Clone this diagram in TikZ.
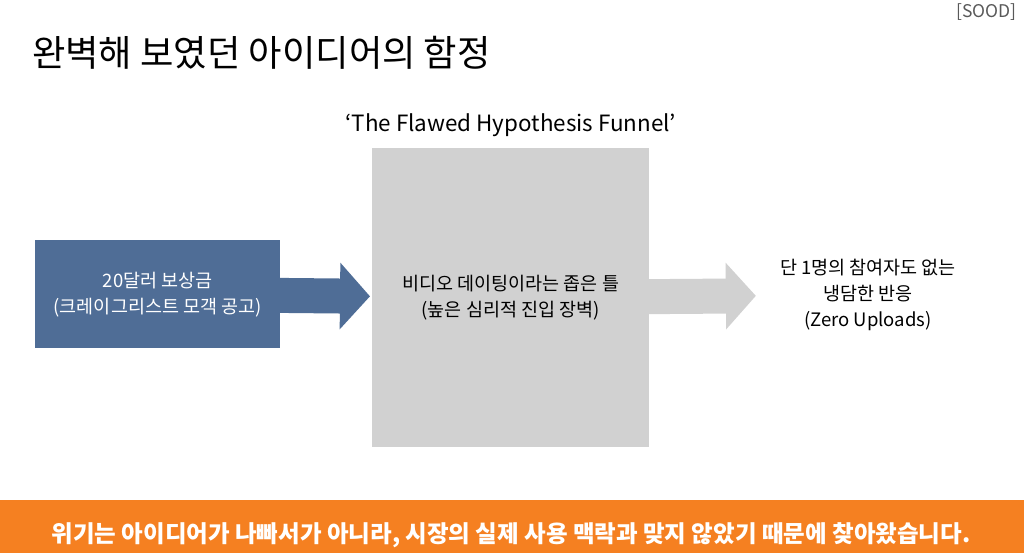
\documentclass[tikz,border=0pt]{standalone}
\usepackage{fontspec}
\setmainfont{Noto Sans CJK KR}
\usepackage{tikz}
\usetikzlibrary{arrows.meta, positioning}
\definecolor{boxblue}{HTML}{4F6D96}
\definecolor{boxgray}{HTML}{D1D1D1}
\definecolor{barorange}{HTML}{F58021}

\begin{document}
\begin{tikzpicture}[x=1pt, y=-1pt,
    txt/.style = {align=center, font=\fontsize{18.5}{26}\selectfont, inner sep=0pt},
    bigarrow/.style = {line width=35pt, -{Triangle[length=30pt, width=65pt]}}]
    \useasboundingbox (0,0) rectangle (1024,553);
    \fill[white] (0,0) rectangle (1024,553);

    \node[anchor=west, inner sep=0pt, font=\fontsize{36.3}{42}\selectfont] (title) at (32,53) {완벽해 보였던 아이디어의 함정};
    \node[anchor=north east, inner sep=0pt, text=black!65, font=\fontsize{17.5}{20}\selectfont] (sood) at (1017,3) {[SOOD]};

    \node[txt, fill=boxgray, minimum width=277pt, minimum height=299pt, anchor=north west] (funnel) at (372,148)
        {비디오 데이팅이라는 좁은 틀\\(높은 심리적 진입 장벽)};
    \node[inner sep=0pt, font=\fontsize{22.4}{26}\selectfont, above=11pt of funnel] (lbl) {‘The Flawed Hypothesis Funnel’};

    \node[txt, fill=boxblue, text=white, minimum width=245pt, minimum height=108pt, anchor=north west] (reward) at (35,240)
        {20달러 보상금\\(크레이그리스트 모객 공고)};
    \node[txt] (result) at (868,295) {단 1명의 참여자도 없는\\냉담한 반응\\(Zero Uploads)};

    \draw[bigarrow, boxblue, shorten <=-1pt, shorten >=2pt] (reward) -- (funnel);
    \draw[bigarrow, boxgray, shorten <=-1pt, shorten >=24pt] (funnel) -- (result);

    % bottom bar
    \node[fill=barorange, minimum width=1024pt, minimum height=53pt, inner sep=0pt, anchor=north west] (bar) at (0,500) {};
    \node[text=white, inner sep=0pt, font=\bfseries\fontsize{23.5}{28}\selectfont] (msg) at (511,535)
        {위기는 아이디어가 나빠서가 아니라, 시장의 실제 사용 맥락과 맞지 않았기 때문에 찾아왔습니다.};
\end{tikzpicture}
\end{document}
